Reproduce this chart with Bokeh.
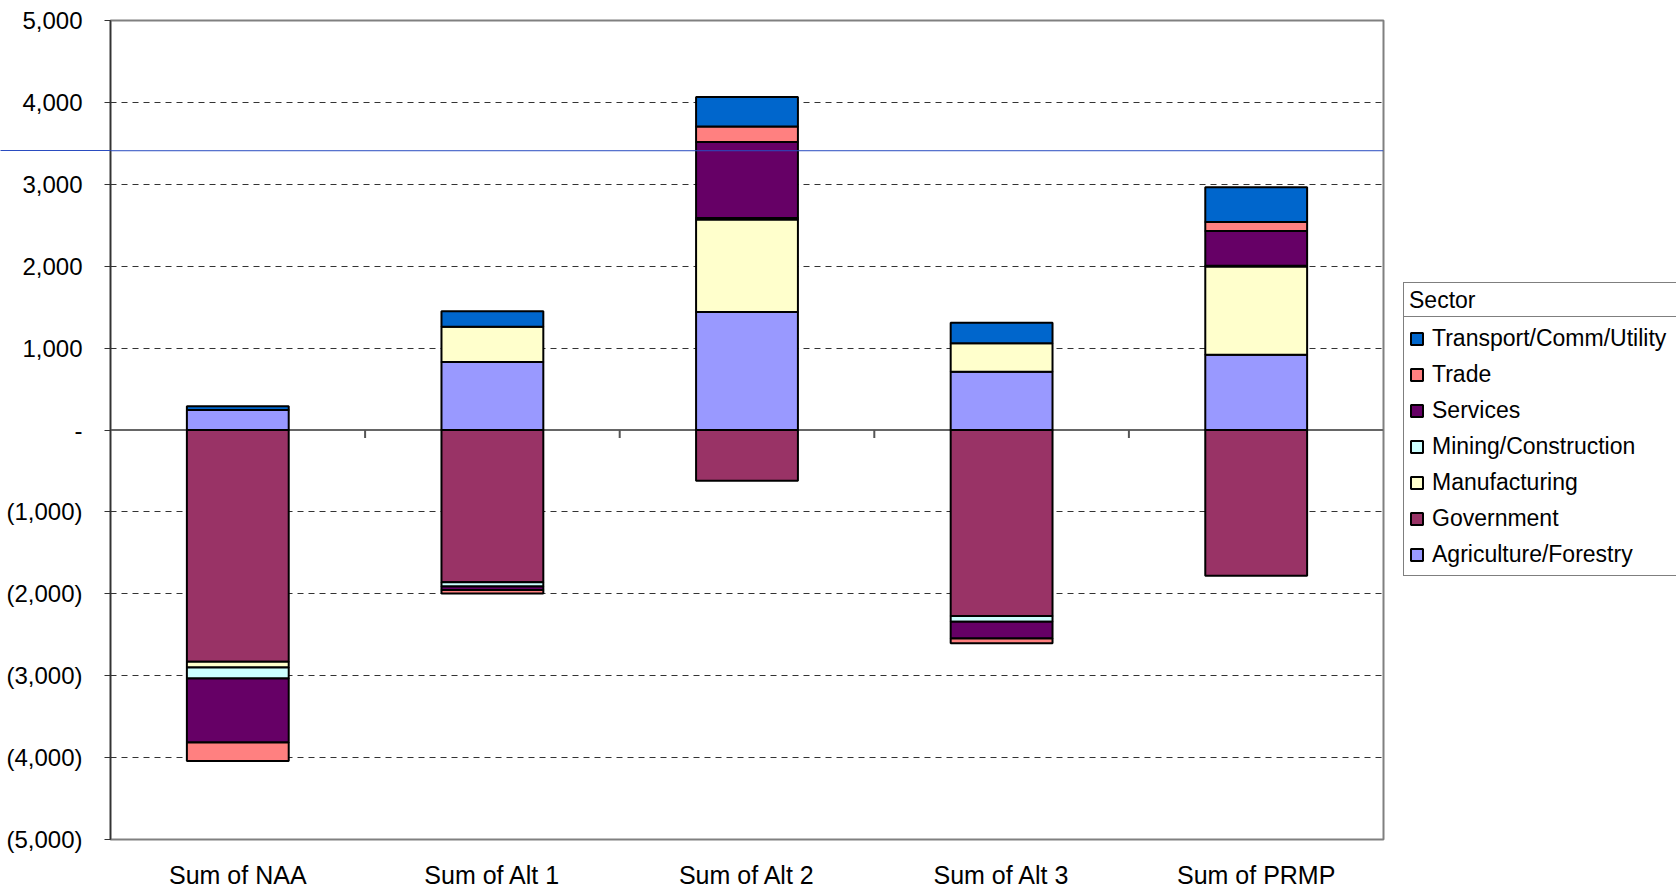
import numpy as np
from bokeh.plotting import figure
from bokeh.layouts import row
from bokeh.models import (Range1d, FixedTicker, Legend, LegendItem, Span,
                          ColumnDataSource)
from bokeh.embed import file_html
from bokeh.resources import INLINE

# ---------------- data ----------------
categories = ["Sum of NAA", "Sum of Alt 1", "Sum of Alt 2", "Sum of Alt 3", "Sum of PRMP"]
sectors = ["Agriculture/Forestry", "Government", "Manufacturing",
           "Mining/Construction", "Services", "Trade", "Transport/Comm/Utility"]
agriculture = [245, 830, 1440, 710, 920]
government = [-2830, -1860, -620, -2270, -1780]
manufacturing = [-70, 430, 1130, 350, 1075]
mining = [-135, -50, 20, -70, 10]
services = [-780, -45, 925, -205, 425]
trade = [-225, -40, 190, -60, 110]
transport = [45, 190, 360, 250, 425]
colors = ["#9999FF", "#993366", "#FFFFCC", "#CCFFFF", "#660066", "#FF8080", "#0066CC"]
y_ticks = [-5000, -4000, -3000, -2000, -1000, 0, 1000, 2000, 3000, 4000, 5000]
y_tick_labels = ["(5,000)", "(4,000)", "(3,000)", "(2,000)", "(1,000)", "-",
                 "1,000", "2,000", "3,000", "4,000", "5,000"]
legend_title = "Sector"
reference_line = 3410

series = [agriculture, government, manufacturing, mining, services, trade, transport]

FONT = "Liberation Sans"
TOTAL_W, TOTAL_H = 1676, 891
FRAME_W = 1273
FRAME_H = 819
LEFT = 110
TOP = 20
BOTTOM = TOTAL_H - TOP - FRAME_H
RIGHT = 10
MAIN_W = LEFT + FRAME_W + RIGHT
BLUE = "#2a4cc0"

p = figure(frame_width=FRAME_W, frame_height=FRAME_H,
           min_border_left=LEFT, min_border_top=TOP, min_border_bottom=BOTTOM,
           min_border_right=RIGHT,
           x_range=Range1d(0, len(categories)), y_range=Range1d(-5000, 5000),
           output_backend="svg", toolbar_location=None, tools="")

p.background_fill_color = "white"
p.border_fill_color = "white"
p.outline_line_color = "#808080"
p.outline_line_width = 2

# grid
p.xgrid.visible = False
p.ygrid.ticker = FixedTicker(ticks=y_ticks)
p.ygrid.grid_line_color = "#333333"
p.ygrid.grid_line_dash = "6 5"
p.ygrid.grid_line_width = 1

# zero line with category separators
p.add_layout(Span(location=0, dimension="width", line_color="#666666",
                  line_width=2, level="underlay"))
tick_len = 8 * 10000 / FRAME_H
bounds = list(range(1, len(categories)))
p.segment(x0=bounds, y0=[0] * len(bounds), x1=bounds, y1=[-tick_len] * len(bounds),
          line_color="#555555", line_width=2)

# stacked bars
pos = [0.0] * len(categories)
neg = [0.0] * len(categories)
for name, vals, col in zip(sectors, series, colors):
    bottoms, tops = [], []
    for i, v in enumerate(vals):
        if v >= 0:
            b = pos[i]; t = b + v; pos[i] = t
        else:
            b = neg[i]; t = b + v; neg[i] = t
        bottoms.append(b); tops.append(t)
    src = ColumnDataSource(dict(x=[i + 0.5 for i in range(len(categories))],
                                bottom=bottoms, top=tops))
    p.vbar(x="x", bottom="bottom", top="top", width=0.4, source=src,
           fill_color=col, line_color="black", line_width=2)

# blue reference line (inside the frame; an axis minor tick carries it to the edge)
p.add_layout(Span(location=reference_line, dimension="width",
                  line_color=BLUE, line_width=1))

# axes
MAJOR_OUT = 6
yax = p.yaxis[0]
yax.ticker = FixedTicker(ticks=y_ticks, minor_ticks=[reference_line])
yax.major_label_overrides = dict(zip(y_ticks, y_tick_labels))
yax.major_label_text_font = FONT
yax.major_label_text_font_size = "24px"
yax.major_label_text_color = "black"
yax.major_tick_out = MAJOR_OUT
yax.major_tick_in = 0
yax.minor_tick_out = LEFT
yax.minor_tick_in = 0
yax.minor_tick_line_color = BLUE
yax.minor_tick_line_width = 1
yax.major_label_standoff = 22 + MAJOR_OUT - LEFT
yax.axis_line_color = "#333333"
yax.axis_line_width = 1.5
yax.major_tick_line_color = "#333333"

xax = p.xaxis[0]
xticks = [i + 0.5 for i in range(len(categories))]
xax.ticker = FixedTicker(ticks=xticks)
xax.major_label_overrides = dict(zip(xticks, categories))
xax.major_label_text_font = FONT
xax.major_label_text_font_size = "25px"
xax.major_label_text_color = "black"
xax.axis_line_color = None
xax.major_tick_line_color = None
xax.minor_tick_line_color = None
xax.major_label_standoff = 15

# ---------------- legend panel ----------------
LEG_W = TOTAL_W - MAIN_W
q = figure(frame_width=LEG_W, frame_height=FRAME_H,
           min_border_left=0, min_border_right=0,
           min_border_top=TOP, min_border_bottom=BOTTOM,
           x_range=Range1d(0, LEG_W), y_range=Range1d(0, FRAME_H),
           x_axis_location=None, y_axis_location=None,
           output_backend="svg", toolbar_location=None, tools="")
q.grid.visible = False
q.outline_line_color = None
q.background_fill_color = "white"
q.border_fill_color = "white"

legend_renderers = []
for name, col in zip(sectors, colors):
    r = q.vbar(x=np.array([np.nan]), top=np.array([np.nan]), width=1,
               fill_color=col, line_color="black", line_width=2)
    legend_renderers.append((name, r))
title_dummy = q.scatter(x=np.array([np.nan]), y=np.array([np.nan]),
                        fill_alpha=0, line_alpha=0)

common = dict(margin=0, border_line_color="black", border_line_width=1,
              background_fill_color="white", background_fill_alpha=1,
              label_text_font=FONT, label_text_font_size="23px",
              label_text_color="black")

FRAME_BOTTOM = TOP + FRAME_H      # page y of the frame bottom (legend locations are measured from it)
LEG_LEFT = 1403 - MAIN_W
SEP_Y = 318
TITLE_PAD, TITLE_ROW = 2, 30
PAD, ROW_H, ROW_GAP = 5, 32, 4

# title box: a one-entry legend without a glyph
title_box = Legend(items=[LegendItem(label=legend_title, renderers=[title_dummy])],
                   padding=TITLE_PAD, label_height=TITLE_ROW, glyph_width=0,
                   glyph_height=TITLE_ROW, label_standoff=3, label_width=300, **common)
title_box.location = (LEG_LEFT, FRAME_BOTTOM - SEP_Y)
q.add_layout(title_box, "center")

# sector entries, directly below the title box
items = [LegendItem(label=n, renderers=[r]) for n, r in reversed(legend_renderers)]
legend = Legend(items=items, padding=PAD, spacing=ROW_GAP, label_height=ROW_H,
                glyph_width=15, glyph_height=15, label_standoff=8, label_width=270,
                **common)
leg_height = 2 * PAD + len(items) * ROW_H + (len(items) - 1) * ROW_GAP
legend.location = (LEG_LEFT, FRAME_BOTTOM - SEP_Y - leg_height)
q.add_layout(legend, "center")

layout = row(p, q, spacing=0)
open("out.html", "w").write(file_html(layout, INLINE))
